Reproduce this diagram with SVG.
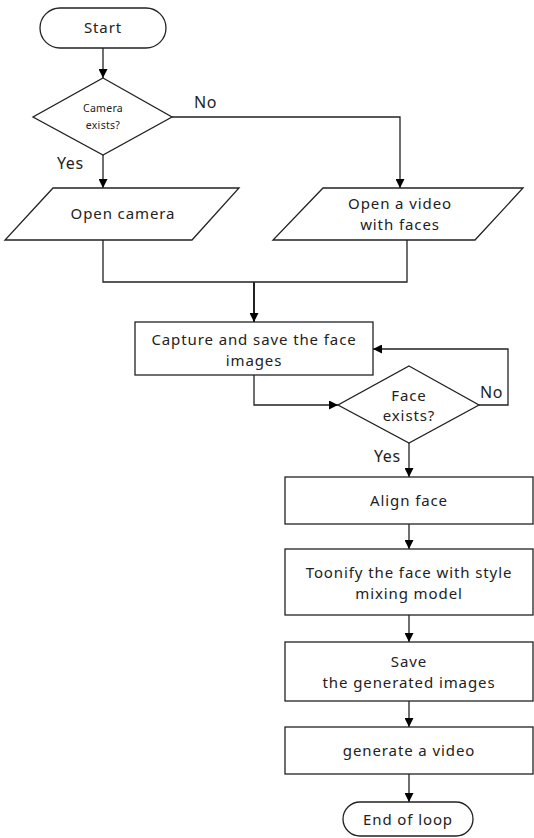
<svg xmlns="http://www.w3.org/2000/svg" width="534" height="838" viewBox="0 0 534 838">
<defs>
<marker id="ah" viewBox="0 0 10 10" refX="10" refY="5" markerWidth="9" markerHeight="9" markerUnits="userSpaceOnUse" orient="auto">
<path d="M0,0 L10,5 L0,10 z" fill="#000"/>
</marker>
</defs>
<style>
.s{fill:#fff;stroke:#222;stroke-width:1.3}
.c{fill:none;stroke:#222;stroke-width:1.3}
.t{font-family:"Noto Sans","Open Sans",sans-serif;font-size:15px;letter-spacing:0.9px;fill:#222;text-anchor:middle}
.sm{font-size:10.5px;letter-spacing:0.3px}
.l{font-family:"Noto Sans","Open Sans",sans-serif;font-size:16px;letter-spacing:0.6px;fill:#222}
</style>
<rect width="534" height="838" fill="#fff"/>
<g id="connectors">
<path class="c" d="M103,48 V78" marker-end="url(#ah)"/>
<path class="c" d="M103,155 V188" marker-end="url(#ah)"/>
<path class="c" d="M172,117 H400 V188" marker-end="url(#ah)"/>
<path class="c" d="M103,240 V282 H407 V240"/>
<path class="c" d="M254,282 V322" marker-end="url(#ah)" style="stroke-width:2"/>
<path class="c" d="M254,375 V405 H338" marker-end="url(#ah)"/>
<path class="c" d="M479,405 H508 V349 H373" marker-end="url(#ah)"/>
<path class="c" d="M409,443 V477" marker-end="url(#ah)"/>
<path class="c" d="M409,524 V549" marker-end="url(#ah)"/>
<path class="c" d="M409,615 V642" marker-end="url(#ah)"/>
<path class="c" d="M409,701 V727" marker-end="url(#ah)"/>
<path class="c" d="M409,774 V802" marker-end="url(#ah)"/>
<text class="l" x="194" y="108">No</text>
<text class="l" x="57" y="169">Yes</text>
<text class="l" x="480" y="398">No</text>
<text class="l" x="374" y="462">Yes</text>
</g>
<g id="start">
<rect class="s" x="40" y="8" width="126" height="40" rx="20"/>
<text class="t" x="103" y="33">Start</text>
</g>
<g id="camera-exists">
<polygon class="s" points="103,78 172,117 103,155 33,117"/>
<text class="t sm" x="103" y="112">Camera</text>
<text class="t sm" x="103" y="129">exists?</text>
</g>
<g id="open-camera">
<polygon class="s" points="53,188 239,188 192,240 5,240"/>
<text class="t" x="123" y="219">Open camera</text>
</g>
<g id="open-video">
<polygon class="s" points="323,188 523,188 475,240 273,240"/>
<text class="t" x="400" y="209">Open a video</text>
<text class="t" x="400" y="230">with faces</text>
</g>
<g id="capture">
<rect class="s" x="135" y="322" width="238" height="53"/>
<text class="t" x="254" y="345">Capture and save the face</text>
<text class="t" x="254" y="366">images</text>
</g>
<g id="face-exists">
<polygon class="s" points="409,366 479,405 409,443 338,405"/>
<text class="t" x="409" y="401">Face</text>
<text class="t" x="409" y="421">exists?</text>
</g>
<g id="align">
<rect class="s" x="285" y="477" width="248" height="47"/>
<text class="t" x="409" y="506">Align face</text>
</g>
<g id="toonify">
<rect class="s" x="285" y="549" width="248" height="66"/>
<text class="t" x="409" y="578">Toonify the face with style</text>
<text class="t" x="409" y="599">mixing model</text>
</g>
<g id="save">
<rect class="s" x="285" y="642" width="248" height="59"/>
<text class="t" x="409" y="667">Save</text>
<text class="t" x="409" y="688">the generated images</text>
</g>
<g id="generate">
<rect class="s" x="285" y="727" width="248" height="47"/>
<text class="t" x="409" y="756">generate a video</text>
</g>
<g id="end">
<rect class="s" x="343" y="802" width="130" height="34" rx="17"/>
<text class="t" x="408" y="825">End of loop</text>
</g>
</svg>
